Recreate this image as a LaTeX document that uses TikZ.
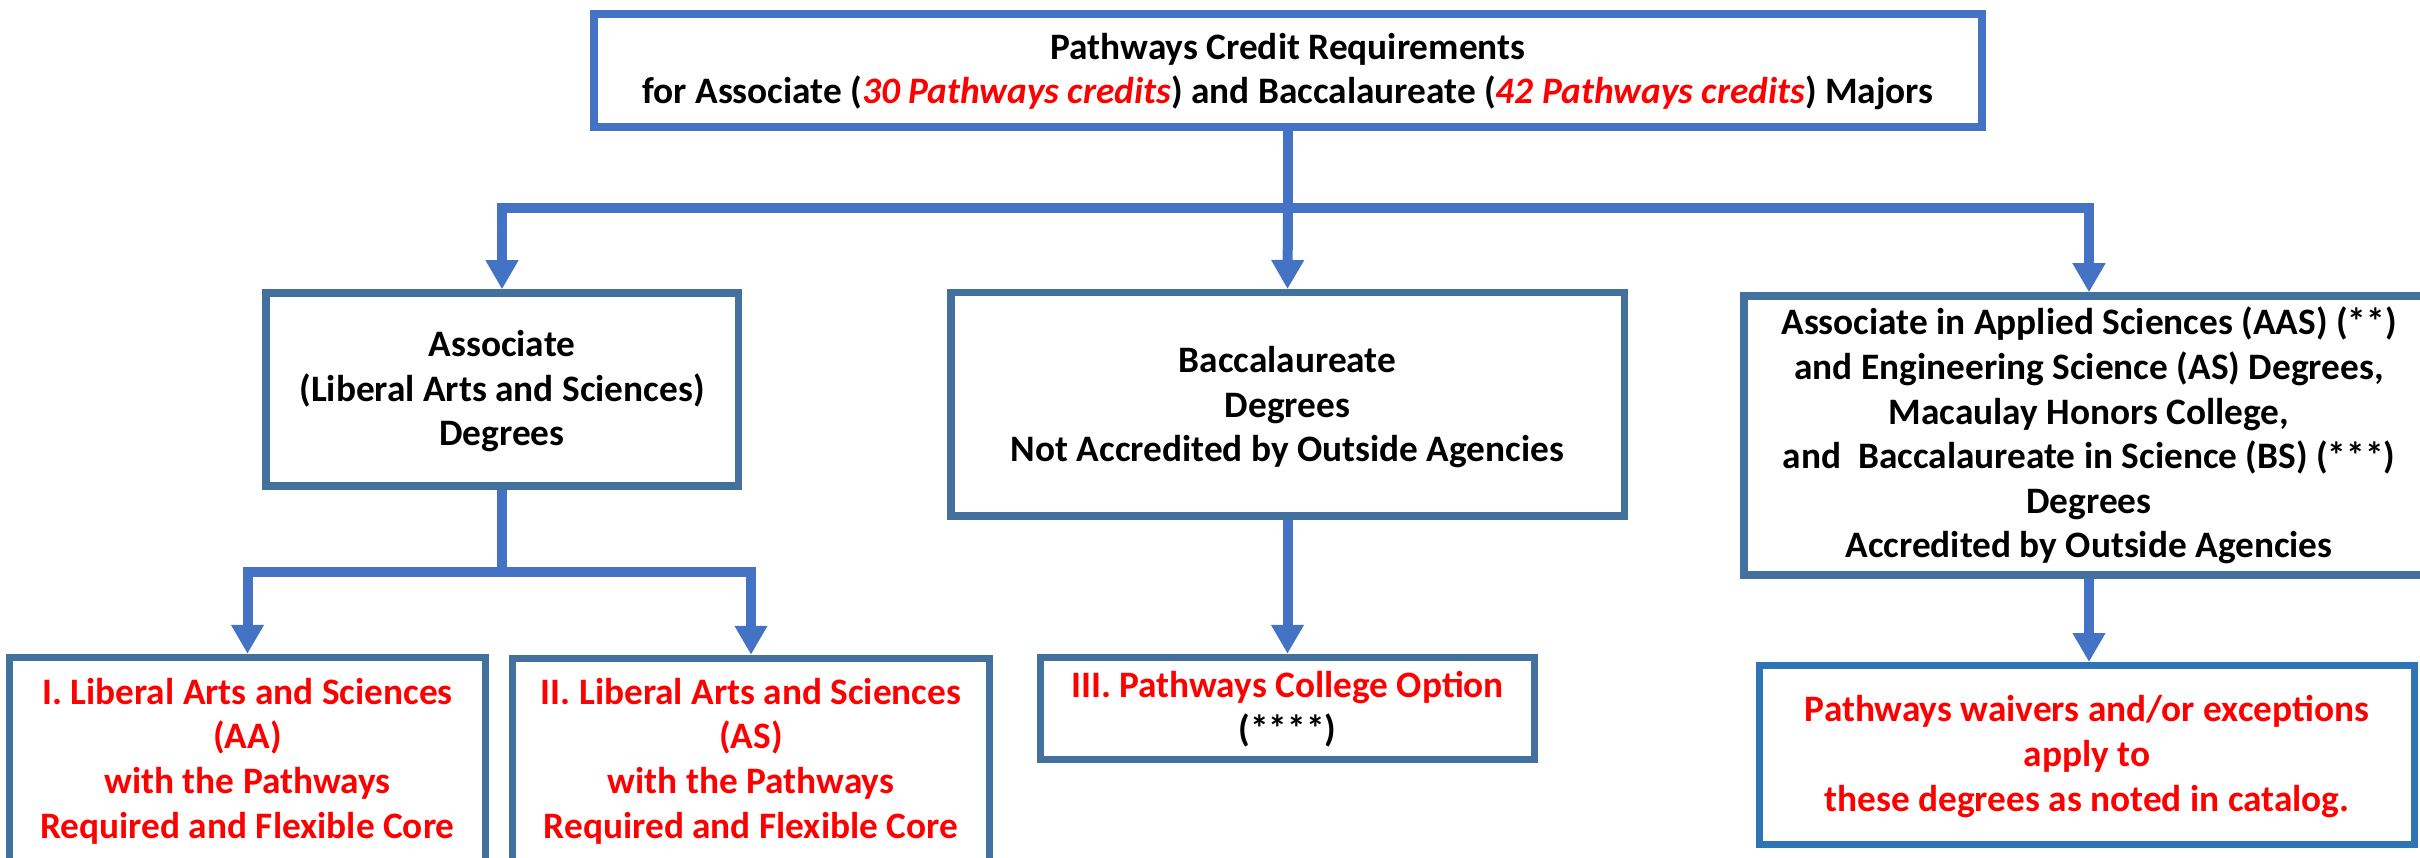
\documentclass[tikz,border=0pt]{standalone}
\usepackage{fontspec}
\setmainfont{Carlito}
\usetikzlibrary{arrows.meta}
\definecolor{connblue}{HTML}{4472C4}
\definecolor{boxblue}{HTML}{41719C}
\definecolor{topblue}{HTML}{4472C4}
\definecolor{waiveblue}{HTML}{2E75B6}
\definecolor{redtxt}{HTML}{FF0000}
\begin{document}
\begin{tikzpicture}[x=0.3pt,y=-0.3pt,
  every node/.style={inner sep=0pt},
  boxnode/.style={draw=boxblue,line width=2.25pt,fill=white,rectangle},
  txt/.style={anchor=base,align=center,font=\fontsize{11.2pt}{13.4pt}\selectfont\bfseries},
  conn/.style={draw=connblue,line width=3pt},
  arr/.style={conn,-{Triangle[width=9.3pt,length=8.7pt]}},
  redt/.style={text=redtxt}]
\useasboundingbox[fill=white] (0,0) rectangle (2420,858);

% boxes
\node[boxnode,draw=topblue,line width=2.3pt,minimum width=416.4pt,minimum height=33.9pt] (top) at (1288,70.5) {};
\node[boxnode,minimum width=141.75pt,minimum height=57.9pt] (assoc) at (502,389.5) {};
\node[boxnode,minimum width=202.05pt,minimum height=67.05pt] (bacc) at (1287.5,404.5) {};
\node[boxnode,minimum width=207pt,minimum height=83.7pt] (aas) at (2089,435.5) {};
\node[boxnode,minimum width=142.8pt,minimum height=62.7pt] (optI) at (247.5,762) {};
\node[boxnode,minimum width=143.1pt,minimum height=62.1pt] (optII) at (751,762) {};
\node[boxnode,minimum width=148.2pt,minimum height=30.6pt] (optIII) at (1287.5,708.5) {};
\node[boxnode,draw=waiveblue,line width=2.1pt,minimum width=196.5pt,minimum height=53.7pt] (waiver) at (2087,755) {};

% texts (anchored at the baseline of the last line)
\node[txt] (topT) at (1288,104)
  {Pathways Credit Requirements\\
   for Associate (\textcolor{redtxt}{\itshape 30 Pathways credits}) and Baccalaureate (\textcolor{redtxt}{\itshape 42 Pathways credits}) Majors};
\node[txt] (assocT) at (502,446)
  {Associate\\(Liberal Arts and Sciences)\\Degrees};
\node[txt] (baccT) at (1287.5,462)
  {Baccalaureate\\Degrees\\Not Accredited by Outside Agencies};
\node[txt] (aasT) at (2089,558)
  {Associate in Applied Sciences (AAS) (**)\\
   and Engineering Science (AS) Degrees,\\
   Macaulay Honors College,\\
   and\ \ Baccalaureate in Science (BS) (***)\\
   Degrees\\
   Accredited by Outside Agencies};
\node[txt,redt] (optIT) at (247.5,838)
  {I. Liberal Arts and Sciences\\(AA)\\with the Pathways\\Required and Flexible Core};
\node[txt,redt] (optIIT) at (751,838)
  {II. Liberal Arts and Sciences\\(AS)\\with the Pathways\\Required and Flexible Core};
\node[txt] (optIIIT) at (1287.5,742)
  {\textcolor{redtxt}{III. Pathways College Option}\\(****)};
\node[txt,redt] (waiverT) at (2087,811)
  {Pathways waivers and/or exceptions\\apply to\\these degrees as noted in catalog.};

% connectors
\coordinate (j1) at (1288,208);
\coordinate (j2) at (502,572);

\draw[conn] (top.south) -- (j1);
\draw[arr] (j1) -| (assoc.north);
\draw[arr] (j1) -- (bacc.north);
\draw[arr] (j1) -| (aas.north);

\draw[conn] (assoc.south) -- (j2);
\draw[arr] (j2) -| (optI.north);
\draw[arr] (j2) -| (optII.north);

\draw[arr] (bacc.south) -- (optIII.north);
\draw[arr] (aas.south) -- (aas.south |- waiver.north);
\end{tikzpicture}
\end{document}
